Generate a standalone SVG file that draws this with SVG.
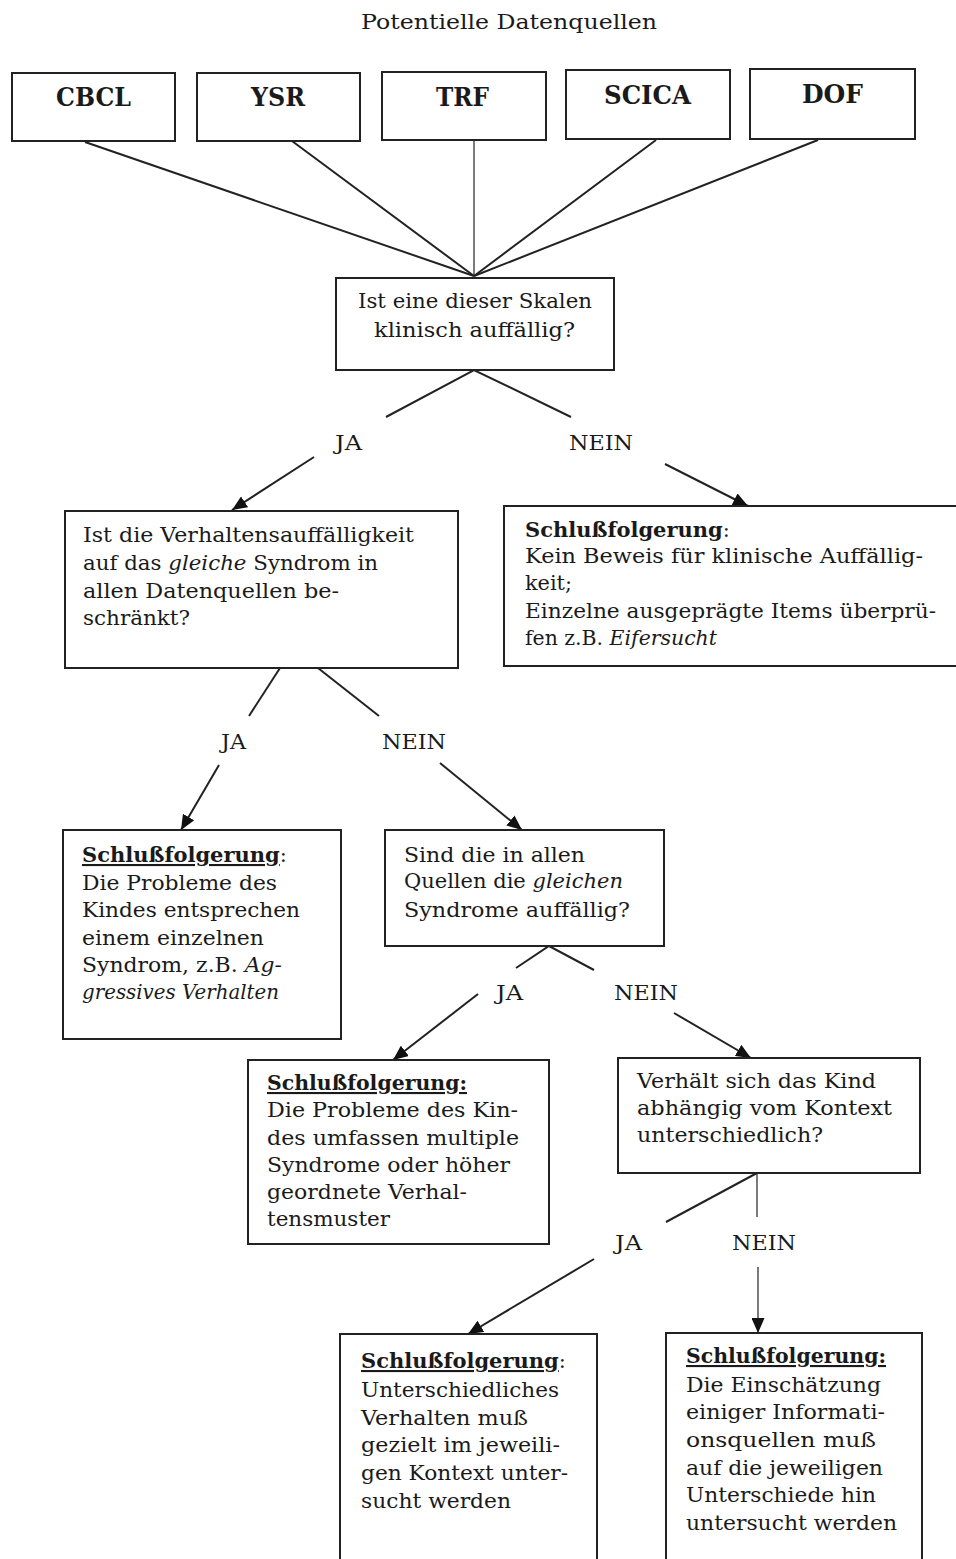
<svg xmlns="http://www.w3.org/2000/svg" width="956" height="1559" viewBox="0 0 956 1559">
<style>
.t{font-family:"DejaVu Serif","Liberation Serif",serif;font-size:21px;fill:#1a1a1a}
.lab{font-family:"DejaVu Serif","Liberation Serif",serif;font-size:26px;font-weight:bold;fill:#1a1a1a}
.b{font-weight:bold}
.i{font-style:italic}
.u{text-decoration:underline}
.box{fill:#fff;stroke:#222;stroke-width:2}
.ln{stroke:#222;stroke-width:2;fill:none}
.thin{stroke:#333;stroke-width:1.3;fill:none}
.ar{marker-end:url(#ah)}
</style>
<defs>
<marker id="ah" viewBox="0 0 15 13" refX="15" refY="6.5" markerWidth="15" markerHeight="13" markerUnits="userSpaceOnUse" orient="auto">
<path d="M0,0 L15,6.5 L0,13 z" fill="#111"/>
</marker>
</defs>
<rect width="956" height="1559" fill="#fff"/>
<text id="title" class="t" x="361" y="29" textLength="296" lengthAdjust="spacingAndGlyphs">Potentielle Datenquellen</text>

<g id="connectors">
<line class="ln" x1="85" y1="142" x2="474" y2="276"/>
<line class="ln" x1="292" y1="141" x2="474" y2="276"/>
<line class="thin" x1="474" y1="140" x2="474" y2="276"/>
<line class="ln" x1="656" y1="140" x2="474" y2="276"/>
<line class="ln" x1="818" y1="140" x2="474" y2="276"/>
<polyline class="ln" points="386,417 474,370 571,417"/>
<line class="ln ar" x1="314" y1="457" x2="232" y2="510"/>
<line class="ln ar" x1="665" y1="464" x2="748" y2="506"/>
<line class="ln" x1="280" y1="668" x2="249" y2="716"/>
<line class="ln" x1="318" y1="668" x2="379" y2="716"/>
<line class="ln ar" x1="219" y1="765" x2="181" y2="830"/>
<line class="ln ar" x1="440" y1="763" x2="522" y2="830"/>
<polyline class="ln" points="516,968 549,946 594,970"/>
<line class="ln ar" x1="478" y1="994" x2="393" y2="1060"/>
<line class="ln ar" x1="674" y1="1013" x2="751" y2="1058"/>
<line class="ln" x1="757" y1="1173" x2="666" y2="1222"/>
<line class="thin" x1="757" y1="1173" x2="757" y2="1217"/>
<line class="ln ar" x1="594" y1="1259" x2="468" y2="1334"/>
<line class="thin ar" x1="758" y1="1267" x2="758" y2="1333"/>
<text class="t" x="335" y="450" textLength="27" lengthAdjust="spacingAndGlyphs">JA</text>
<text class="t" x="569" y="450" textLength="64" lengthAdjust="spacingAndGlyphs">NEIN</text>
<text class="t" x="221" y="749" textLength="25" lengthAdjust="spacingAndGlyphs">JA</text>
<text class="t" x="382" y="749" textLength="64" lengthAdjust="spacingAndGlyphs">NEIN</text>
<text class="t" x="496" y="1000" textLength="27" lengthAdjust="spacingAndGlyphs">JA</text>
<text class="t" x="614" y="1000" textLength="64" lengthAdjust="spacingAndGlyphs">NEIN</text>
<text class="t" x="615" y="1250" textLength="27" lengthAdjust="spacingAndGlyphs">JA</text>
<text class="t" x="732" y="1250" textLength="64" lengthAdjust="spacingAndGlyphs">NEIN</text>
</g>

<g id="cbcl"><rect class="box" x="12" y="73" width="163" height="68"/><text class="lab" x="56" y="106" textLength="75" lengthAdjust="spacingAndGlyphs">CBCL</text></g>
<g id="ysr"><rect class="box" x="197" y="73" width="163" height="68"/><text class="lab" x="251" y="106" textLength="54" lengthAdjust="spacingAndGlyphs">YSR</text></g>
<g id="trf"><rect class="box" x="382" y="72" width="164" height="68"/><text class="lab" x="436" y="106" textLength="53" lengthAdjust="spacingAndGlyphs">TRF</text></g>
<g id="scica"><rect class="box" x="566" y="70" width="164" height="69"/><text class="lab" x="604" y="104" textLength="87" lengthAdjust="spacingAndGlyphs">SCICA</text></g>
<g id="dof"><rect class="box" x="750" y="69" width="165" height="70"/><text class="lab" x="802" y="103" textLength="61" lengthAdjust="spacingAndGlyphs">DOF</text></g>

<g id="q1"><rect class="box" x="336" y="278" width="278" height="92"/>
<text class="t" x="358" y="308" textLength="234" lengthAdjust="spacingAndGlyphs">Ist eine dieser Skalen</text>
<text class="t" x="374" y="337" textLength="201" lengthAdjust="spacingAndGlyphs">klinisch auffällig?</text></g>

<g id="q2"><rect class="box" x="65" y="511" width="393" height="157"/>
<text class="t" x="83" y="542" textLength="331" lengthAdjust="spacingAndGlyphs">Ist die Verhaltensauffälligkeit</text>
<text class="t" x="83" y="570" textLength="295" lengthAdjust="spacingAndGlyphs">auf das <tspan class="i">gleiche</tspan> Syndrom in</text>
<text class="t" x="83" y="598" textLength="256" lengthAdjust="spacingAndGlyphs">allen Datenquellen be-</text>
<text class="t" x="83" y="625" textLength="107" lengthAdjust="spacingAndGlyphs">schränkt?</text></g>

<g id="c1"><rect class="box" x="504" y="506" width="470" height="160"/>
<text class="t" x="525" y="537"><tspan class="b">Schlußfolgerung</tspan>:</text>
<text class="t" x="525" y="563" textLength="398" lengthAdjust="spacingAndGlyphs">Kein Beweis für klinische Auffällig-</text>
<text class="t" x="525" y="590" textLength="47" lengthAdjust="spacingAndGlyphs">keit;</text>
<text class="t" x="525" y="618" textLength="411" lengthAdjust="spacingAndGlyphs">Einzelne ausgeprägte Items überprü-</text>
<text class="t" x="525" y="645" textLength="192" lengthAdjust="spacingAndGlyphs">fen z.B. <tspan class="i">Eifersucht</tspan></text></g>

<g id="c2"><rect class="box" x="63" y="830" width="278" height="209"/>
<text class="t" x="82" y="862"><tspan class="b u">Schlußfolgerung</tspan>:</text>
<text class="t" x="82" y="890" textLength="195" lengthAdjust="spacingAndGlyphs">Die Probleme des</text>
<text class="t" x="82" y="917" textLength="218" lengthAdjust="spacingAndGlyphs">Kindes entsprechen</text>
<text class="t" x="82" y="945" textLength="182" lengthAdjust="spacingAndGlyphs">einem einzelnen</text>
<text class="t" x="82" y="972" textLength="200" lengthAdjust="spacingAndGlyphs">Syndrom, z.B. <tspan class="i">Ag-</tspan></text>
<text class="t i" x="82" y="999" textLength="197" lengthAdjust="spacingAndGlyphs">gressives Verhalten</text></g>

<g id="q3"><rect class="box" x="385" y="830" width="279" height="116"/>
<text class="t" x="404" y="862" textLength="181" lengthAdjust="spacingAndGlyphs">Sind die in allen</text>
<text class="t" x="404" y="888" textLength="219" lengthAdjust="spacingAndGlyphs">Quellen die <tspan class="i">gleichen</tspan></text>
<text class="t" x="404" y="917" textLength="226" lengthAdjust="spacingAndGlyphs">Syndrome auffällig?</text></g>

<g id="c3"><rect class="box" x="248" y="1060" width="301" height="184"/>
<text class="t b u" x="267" y="1090" textLength="200" lengthAdjust="spacingAndGlyphs">Schlußfolgerung:</text>
<text class="t" x="267" y="1117" textLength="251" lengthAdjust="spacingAndGlyphs">Die Probleme des Kin-</text>
<text class="t" x="267" y="1145" textLength="252" lengthAdjust="spacingAndGlyphs">des umfassen multiple</text>
<text class="t" x="267" y="1172" textLength="243" lengthAdjust="spacingAndGlyphs">Syndrome oder höher</text>
<text class="t" x="267" y="1199" textLength="200" lengthAdjust="spacingAndGlyphs">geordnete Verhal-</text>
<text class="t" x="267" y="1226" textLength="123" lengthAdjust="spacingAndGlyphs">tensmuster</text></g>

<g id="q4"><rect class="box" x="618" y="1058" width="302" height="115"/>
<text class="t" x="637" y="1088" textLength="239" lengthAdjust="spacingAndGlyphs">Verhält sich das Kind</text>
<text class="t" x="637" y="1115" textLength="255" lengthAdjust="spacingAndGlyphs">abhängig vom Kontext</text>
<text class="t" x="637" y="1142" textLength="186" lengthAdjust="spacingAndGlyphs">unterschiedlich?</text></g>

<g id="c4"><rect class="box" x="340" y="1334" width="257" height="240"/>
<text class="t" x="361" y="1368"><tspan class="b u">Schlußfolgerung</tspan>:</text>
<text class="t" x="361" y="1397" textLength="198" lengthAdjust="spacingAndGlyphs">Unterschiedliches</text>
<text class="t" x="361" y="1425" textLength="167" lengthAdjust="spacingAndGlyphs">Verhalten muß</text>
<text class="t" x="361" y="1452" textLength="199" lengthAdjust="spacingAndGlyphs">gezielt im jeweili-</text>
<text class="t" x="361" y="1480" textLength="207" lengthAdjust="spacingAndGlyphs">gen Kontext unter-</text>
<text class="t" x="361" y="1508" textLength="150" lengthAdjust="spacingAndGlyphs">sucht werden</text></g>

<g id="c5"><rect class="box" x="666" y="1333" width="256" height="240"/>
<text class="t b u" x="686" y="1363" textLength="200" lengthAdjust="spacingAndGlyphs">Schlußfolgerung:</text>
<text class="t" x="686" y="1392" textLength="195" lengthAdjust="spacingAndGlyphs">Die Einschätzung</text>
<text class="t" x="686" y="1419" textLength="199" lengthAdjust="spacingAndGlyphs">einiger Informati-</text>
<text class="t" x="686" y="1447" textLength="190" lengthAdjust="spacingAndGlyphs">onsquellen muß</text>
<text class="t" x="686" y="1475" textLength="197" lengthAdjust="spacingAndGlyphs">auf die jeweiligen</text>
<text class="t" x="686" y="1502" textLength="190" lengthAdjust="spacingAndGlyphs">Unterschiede hin</text>
<text class="t" x="686" y="1530" textLength="211" lengthAdjust="spacingAndGlyphs">untersucht werden</text></g>
</svg>
